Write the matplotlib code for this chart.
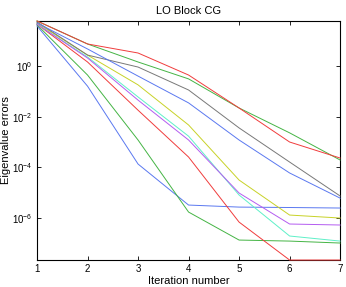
import matplotlib
matplotlib.use("Agg")
import matplotlib.pyplot as plt
from matplotlib.ticker import FixedLocator, NullLocator

plt.rcParams["font.family"] = ["Liberation Sans", "DejaVu Sans"]

# iteration numbers
iterations = [1, 2, 3, 4, 5, 6, 7]

# eigenvalue errors, one list per eigenvalue
err_1 = [38, 0.16, 1.35e-4, 3.25e-6, 2.7e-6, 2.6e-6, 2.48e-6]
err_2 = [42, 0.44, 1.2e-3, 1.72e-6, 1.35e-7, 1.23e-7, 1.03e-7]
err_3 = [45, 1.44, 0.018, 2.55e-4, 6.9e-7, 2.2e-8, 2.2e-8]
err_4 = [45, 2.26, 0.060, 1.7e-3, 8.1e-6, 1.95e-7, 1.23e-7]
err_5 = [45, 2.07, 0.045, 1.2e-3, 9.7e-6, 5.8e-7, 5.3e-7]
err_6 = [50, 2.7, 0.18, 4.7e-3, 3.15e-5, 1.31e-6, 1.0e-6]
err_7 = [55, 2.7, 0.91, 0.113, 3.6e-3, 1.62e-4, 7.4e-6]
err_8 = [50, 4.7, 0.40, 0.035, 1.2e-3, 6.0e-5, 6.1e-6]
err_9 = [60, 7.4, 1.44, 0.31, 0.022, 2.3e-3, 1.95e-4]
err_10 = [60, 7.4, 3.26, 0.44, 0.022, 1.0e-3, 2.33e-4]

errors = [err_1, err_2, err_3, err_4, err_5, err_6, err_7, err_8, err_9, err_10]
colors = ["#5a78f0", "#44b444", "#f03c3c", "#5ef0c8", "#b45cf0",
          "#c8d228", "#787878", "#5a78f0", "#44b444", "#f03c3c"]

fig = plt.figure(figsize=(3.46, 2.87), dpi=100)
ax = fig.add_axes([0.107, 0.094, 0.876, 0.833])

# one line per eigenvalue, drawn over the frame so the bottom one shows
for e, c in zip(errors, colors):
    ax.semilogy(iterations, e, color=c, linewidth=0.7, zorder=3,
                clip_on=False)

all_vals = [v for e in errors for v in e]
ax.set_xlim(1, 7)
ax.set_ylim(min(all_vals), max(all_vals))

ax.xaxis.set_major_locator(FixedLocator(iterations))
ax.yaxis.set_major_locator(FixedLocator([1e0, 1e-2, 1e-4, 1e-6]))
ax.yaxis.set_minor_locator(NullLocator())
ax.tick_params(direction="in", top=True, right=True, length=3,
               width=0.6, labelsize=7, pad=3)
for s in ax.spines.values():
    s.set_linewidth(0.8)

ax.set_xlabel("Iteration number", fontsize=8, labelpad=1)
ax.set_ylabel("Eigenvalue errors", fontsize=8, labelpad=0)
ax.yaxis.set_label_coords(-0.085, 0.5)
ax.set_title("LO Block CG", fontsize=8, pad=5)

fig.savefig("out.png", dpi=100)
